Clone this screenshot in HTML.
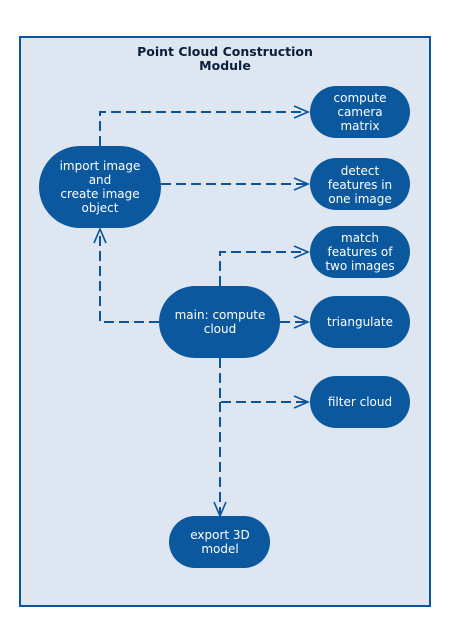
<!DOCTYPE html>
<html><head><style>html,body{margin:0;padding:0;background:#fff;}svg{display:block}</style></head>
<body>
<svg width="450" height="627" xmlns="http://www.w3.org/2000/svg" font-family="DejaVu Sans, Liberation Sans, sans-serif">
<rect x="20" y="37" width="410" height="569" fill="#dee6f1" stroke="#0b559d" stroke-width="2"/>
<text x="225" y="56" text-anchor="middle" font-size="12.5" font-weight="bold" fill="#0b1f3a">Point Cloud Construction</text>
<text x="225" y="70" text-anchor="middle" font-size="12.5" font-weight="bold" fill="#0b1f3a">Module</text>
<g fill="none" stroke="#0b559d" stroke-width="2" stroke-dasharray="10,5">
<path d="M100 146 V112 H308"/>
<path d="M161 184 H308"/>
<path d="M159 322 H100 V230"/>
<path d="M220 286 V252 H308"/>
<path d="M280 322 H308"/>
<path d="M220 358 V402 H308"/>
<path d="M220 402 V514"/>
</g>
<g fill="none" stroke="#0b559d" stroke-width="1.6">
<path d="M294 106 L308 112 L294 118"/>
<path d="M294 178 L308 184 L294 190"/>
<path d="M294 246 L308 252 L294 258"/>
<path d="M294 316 L308 322 L294 328"/>
<path d="M294 396 L308 402 L294 408"/>
<path d="M94 243 L100 229 L106 243"/>
<path d="M214 502 L220 516 L226 502"/>
</g>
<g fill="#0b589e">
<rect x="39" y="146" width="122" height="82" rx="41"/>
<rect x="310" y="86" width="100" height="52" rx="26"/>
<rect x="310" y="158" width="100" height="52" rx="26"/>
<rect x="310" y="226" width="100" height="52" rx="26"/>
<rect x="310" y="296" width="100" height="52" rx="26"/>
<rect x="310" y="376" width="100" height="52" rx="26"/>
<rect x="159" y="286" width="121" height="72" rx="36"/>
<rect x="169" y="516" width="101" height="52" rx="26"/>
</g>
<g fill="#fff" font-size="12" text-anchor="middle">
<text x="100" y="170">import image</text><text x="100" y="184">and</text><text x="100" y="198">create image</text><text x="100" y="212">object</text>
<text x="360" y="102">compute</text><text x="360" y="116">camera</text><text x="360" y="130">matrix</text>
<text x="360" y="175">detect</text><text x="360" y="189">features in</text><text x="360" y="203">one image</text>
<text x="360" y="242">match</text><text x="360" y="256">features of</text><text x="360" y="270">two images</text>
<text x="360" y="326">triangulate</text>
<text x="360" y="406">filter cloud</text>
<text x="220" y="319">main: compute</text><text x="220" y="333">cloud</text>
<text x="220" y="539">export 3D</text><text x="220" y="553">model</text>
</g>
</svg>
</body></html>
